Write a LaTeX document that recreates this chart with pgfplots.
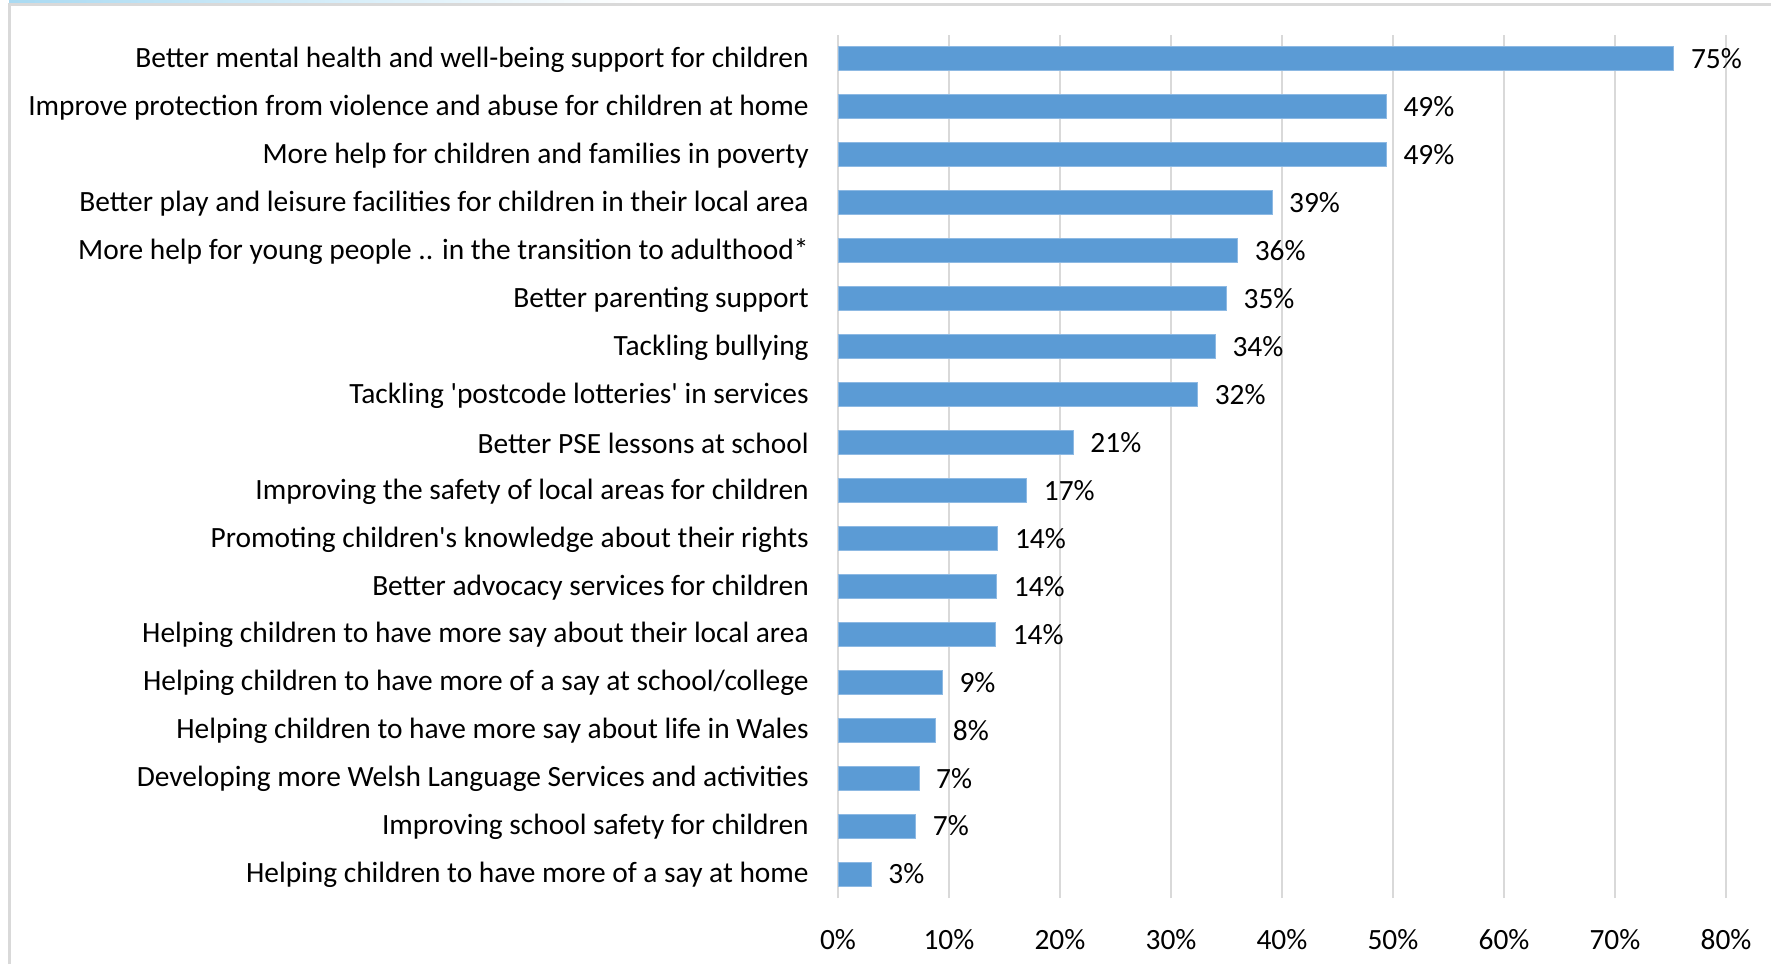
\documentclass[border=0pt]{standalone}
\usepackage{fontspec}
\setmainfont{Carlito}[Ligatures=TeXOff]
\usepackage{pgfplots}
\usepackage{pgfplotstable}
\pgfplotsset{compat=1.18}
\definecolor{barblue}{HTML}{5B9BD5}
\definecolor{baredge}{HTML}{8DB9E3}
\definecolor{gridgray}{HTML}{D9D9D9}
\definecolor{framegray}{HTML}{D9D9D9}
\definecolor{stripblue}{HTML}{A9DAF2}

\pgfplotstableread[col sep=comma]{
y,value,lab
17,75.3,75\%
16,49.4,49\%
15,49.4,49\%
14,39.1,39\%
13,36.0,36\%
12,35.0,35\%
11,34.0,34\%
10,32.4,32\%
9,21.2,21\%
8,17.0,17\%
7,14.4,14\%
6,14.3,14\%
5,14.2,14\%
4,9.4,9\%
3,8.8,8\%
2,7.3,7\%
1,7.0,7\%
0,3.0,3\%
}\datatable

\begin{document}
\begin{tikzpicture}[x=0.5pt,y=0.5pt]
\path[use as bounding box] (0,0) rectangle (1771,964);
% frame
\shade[left color=stripblue, right color=white] (9,959) rectangle (640,964);
\draw[framegray, line width=1.5pt] (9,0) -- (9,959) -- (1771,959);
\begin{axis}[
  at={(419pt,33pt)}, anchor=south west,
  scale only axis, width=444pt, height=431.5pt,
  xmin=0, xmax=80, ymin=-0.5, ymax=17.5,
  axis lines=left,
  axis line style={draw=none},
  ytick={0,...,17},
  yticklabels={
    {Helping children to have more of a say at home},
    {Improving school safety for children},
    {Developing more Welsh Language Services and activities},
    {Helping children to have more say about life in Wales},
    {Helping children to have more of a say at school/college},
    {Helping children to have more say about their local area},
    {Better advocacy services for children},
    {Promoting children's knowledge about their rights},
    {Improving the safety of local areas for children},
    {Better PSE lessons at school},
    {Tackling 'postcode lotteries' in services},
    {Tackling bullying},
    {Better parenting support},
    {More help for young people .. in the transition to adulthood*},
    {Better play and leisure facilities for children in their local area},
    {More help for children and families in poverty},
    {Improve protection from violence and abuse for children at home},
    {Better mental health and well-being support for children}},
  xtick={0,10,...,80},
  xticklabels={0\%,10\%,20\%,30\%,40\%,50\%,60\%,70\%,80\%},
  tick style={draw=none},
  yticklabel style={font=\fontsize{14.7}{16}\selectfont, anchor=east, xshift=-9pt, yshift=-0.5pt},
  xticklabel style={font=\fontsize{14.7}{16}\selectfont, yshift=-10pt},
  clip=false,
]
\foreach \g in {0,10,...,80} {
  \edef\tmp{\noexpand\draw[gridgray, line width=0.75pt] (axis cs:\g,-0.5) -- (axis cs:\g,17.5);}
  \tmp
}
\addplot[xbar, bar width=0.5, fill=barblue, draw=baredge, line width=0.5pt,
  point meta=explicit symbolic,
  nodes near coords,
  nodes near coords style={font=\fontsize{14.7}{16}\selectfont, anchor=west, xshift=5pt, text=black}]
  table[x=value, y=y, meta=lab] {\datatable};
\end{axis}
\end{tikzpicture}
\end{document}
